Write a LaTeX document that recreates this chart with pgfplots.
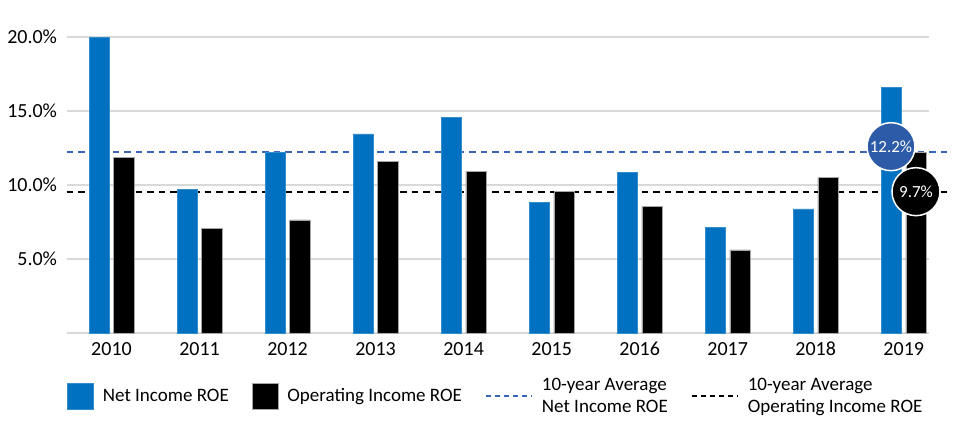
\documentclass[border=0pt]{standalone}
\usepackage{pgfplots}
\pgfplotsset{compat=1.18}
\usepackage{fontspec}
\setmainfont{Carlito}
\definecolor{barblue}{HTML}{0070C0}
\definecolor{lineblue}{HTML}{3A66B8}
\definecolor{circblue}{HTML}{2D5BA8}
\definecolor{gridgray}{HTML}{D9D9D9}
\begin{document}
\begin{tikzpicture}
\begin{axis}[
  width=862pt, height=303.4pt, scale only axis,
  xmin=-0.509, xmax=9.284, ymin=0, ymax=20.5,
  clip=false,
  axis line style={draw=none},
  major tick length=0pt,
  xtick={0,1,2,3,4,5,6,7,8,9},
  xticklabels={2010,2011,2012,2013,2014,2015,2016,2017,2018,2019},
  ytick={0,5,10,15,20},
  yticklabels={,5.0\%,10.0\%,15.0\%,20.0\%},
  ymajorgrids, grid style={draw=gridgray, line width=1.6pt},
  tick label style={font=\fontsize{20}{24}\selectfont, text=black},
  yticklabel style={inner xsep=0pt, xshift=-9.5pt},
  xticklabel style={inner ysep=0pt, yshift=-9pt},
  /pgf/number format/assume math mode=true,
  legend columns=-1,
  legend style={at={(-0.003,-0.2076)}, anchor=west, draw=none, fill=none,
    font=\fontsize{19}{22}\selectfont,
    nodes={inner sep=0pt, anchor=west, align=left},
    /tikz/every even column/.append style={column sep=23pt},
    /tikz/every odd column/.append style={column sep=9pt}},
  legend cell align=left,
]
% average lines (behind bars)
\addplot[forget plot, lineblue, line width=2pt, dash pattern=on 6.5pt off 5pt]
  coordinates {(-0.509,12.23) (9.53,12.23)};
\addplot[forget plot, black, line width=2pt, dash pattern=on 6.5pt off 5pt]
  coordinates {(-0.509,9.55) (9.53,9.55)};
% bars
\addplot[ybar, bar width=0.23, bar shift=-0.14, fill=barblue, draw=barblue!80!white, line width=0.6pt,
  legend image code/.code={\draw[fill=barblue, draw=barblue!80!white] (0pt,-13pt) rectangle (26pt,13pt);}]
  coordinates {(0,20.0) (1,9.73) (2,12.23) (3,13.45) (4,14.59) (5,8.83) (6,10.86) (7,7.11) (8,8.38) (9,16.62)};
\addlegendentry{Net Income ROE}
\addplot[ybar, bar width=0.23, bar shift=0.14, fill=black, draw=gray!70, line width=0.6pt,
  legend image code/.code={\draw[fill=black, draw=gray!70] (0pt,-13pt) rectangle (26pt,13pt);}]
  coordinates {(0,11.89) (1,7.09) (2,7.64) (3,11.57) (4,10.93) (5,9.59) (6,8.56) (7,5.61) (8,10.52) (9,12.18)};
\addlegendentry{Operating Income ROE}
\addlegendimage{legend image code/.code={\draw[lineblue, line width=2pt, dash pattern=on 5pt off 4pt] (0pt,0pt) -- (46pt,0pt);}}
\addlegendentry{10-year Average\\Net Income ROE}
\addlegendimage{legend image code/.code={\draw[black, line width=2pt, dash pattern=on 5pt off 4pt] (0pt,0pt) -- (46pt,0pt);}}
\addlegendentry{10-year Average\\Operating Income ROE}
% circle annotations
\node[circle, fill=circblue, draw=white, line width=1.5pt, minimum size=48pt, inner sep=0pt,
  text=white, font=\fontsize{17}{20}\selectfont] at (axis cs:8.855,12.59) {12.2\%};
\node[circle, fill=black, draw=white, line width=1.5pt, minimum size=48pt, inner sep=0pt,
  text=white, font=\fontsize{17}{20}\selectfont] at (axis cs:9.139,9.55) {9.7\%};
\coordinate (bbsw) at (rel axis cs:-0.0774,-0.3197);
\coordinate (bbne) at (rel axis cs:1.0293,1.0976);
\end{axis}
\pgfresetboundingbox
\path (bbsw) rectangle (bbne);
\end{tikzpicture}
\end{document}
